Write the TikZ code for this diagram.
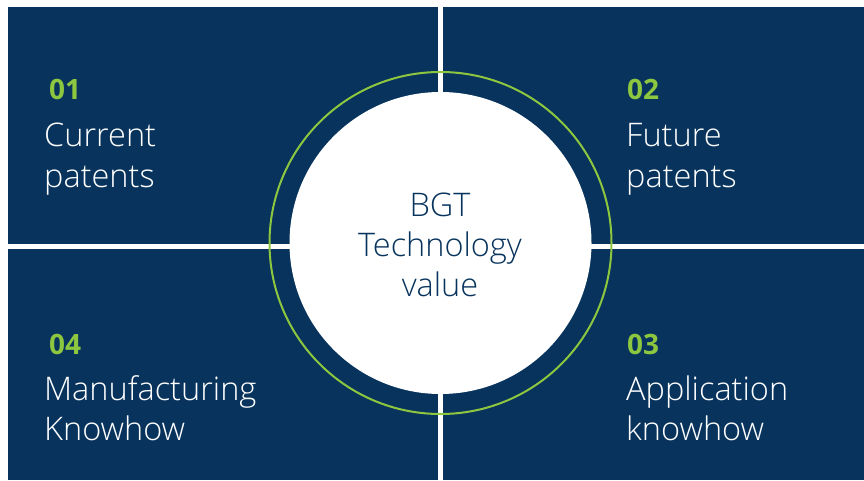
\documentclass[tikz,border=0pt]{standalone}
\usepackage{fontspec}
\setmainfont{Open Sans}
\IfFontExistsTF{Open Sans Light}
  {\newfontfamily\lightfont{Open Sans Light}}
  {\newfontfamily\lightfont{Open Sans}}
\definecolor{navy}{HTML}{07335D}
\definecolor{lime}{HTML}{8DC63F}
\begin{document}
\begin{tikzpicture}[x=1pt,y=-1pt,
  quad/.style={fill=navy,draw=none},
  num/.style={anchor=base west,inner sep=0pt,text=lime,font=\fontsize{28}{28}\selectfont\bfseries},
  label/.style={anchor=base west,inner sep=0pt,text=white,align=left,font=\lightfont\fontsize{32.5}{40}\selectfont},
  core/.style={anchor=base,inner sep=0pt,text=navy,align=center,font=\lightfont\fontsize{32.5}{40}\selectfont}]
  \useasboundingbox (0,0) rectangle (864,481);
  \fill[white] (0,0) rectangle (864,481);
  % four quadrants
  \path[quad] (7.5,7) rectangle (438,244) node[coordinate] (q1) {};
  \path[quad] (443,7) rectangle (864,244) node[coordinate] (q2) {};
  \path[quad] (7.5,249) rectangle (438,480) node[coordinate] (q4) {};
  \path[quad] (443,249) rectangle (864,480) node[coordinate] (q3) {};
  % central disc with outer ring
  \node[circle,draw=lime,line width=2pt,minimum size=342pt,inner sep=0pt] (ring) at (440.5,243) {};
  \node[circle,fill=white,minimum size=302pt,inner sep=0pt] (disc) at (440.5,243) {};
  % labels (anchored on the baseline of their last line)
  \node[num] (n1) at (49,100) {01};
  \node[label] (t1) at (44,187) {Current\\patents};
  \node[num] (n2) at (627,100) {02};
  \node[label] (t2) at (626,187) {Future\\patents};
  \node[num] (n4) at (49,354) {04};
  \node[label] (t4) at (44,440) {Manufacturing\\Knowhow};
  \node[num] (n3) at (627,354) {03};
  \node[label] (t3) at (626,440) {Application\\knowhow};
  \node[core] (c) at (440,296) {BGT\\Technology\\value};
\end{tikzpicture}
\end{document}
